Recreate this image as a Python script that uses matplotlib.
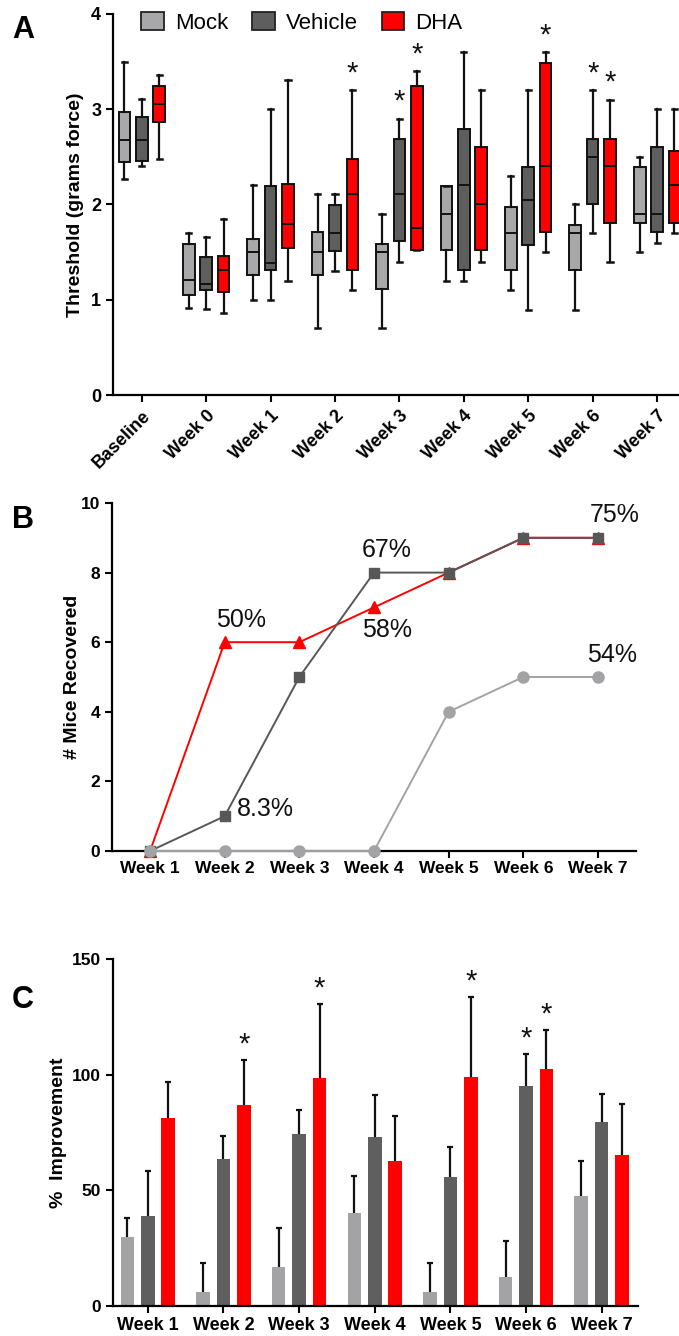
import matplotlib
matplotlib.use('Agg')
import matplotlib.pyplot as plt
import numpy as np
from matplotlib.patches import Patch

plt.rcParams['font.family'] = ['Liberation Sans', 'DejaVu Sans']

# ---------------- data ----------------
series = ['Mock', 'Vehicle', 'DHA']
colors_box = ['#a8a8ab', '#5e5e5e', '#ff0000']
colors_line = ['#a3a3a6', '#575757', '#ff0000']
colors_bar = ['#a3a3a6', '#5f5f5f', '#ff0000']

groups_a = ['Baseline', 'Week 0', 'Week 1', 'Week 2', 'Week 3',
            'Week 4', 'Week 5', 'Week 6', 'Week 7']

mock_low = [2.27, 0.91, 1.00, 0.70, 0.70, 1.20, 1.10, 0.89, 1.50]
mock_q1 = [2.45, 1.05, 1.26, 1.26, 1.11, 1.52, 1.31, 1.31, 1.81]
mock_med = [2.68, 1.21, 1.50, 1.50, 1.50, 1.90, 1.70, 1.70, 1.90]
mock_q3 = [2.97, 1.59, 1.64, 1.71, 1.59, 2.19, 1.97, 1.79, 2.39]
mock_high = [3.50, 1.70, 2.20, 2.11, 1.90, 2.19, 2.30, 2.01, 2.50]

veh_low = [2.40, 0.90, 1.00, 1.30, 1.40, 1.20, 0.89, 1.70, 1.60]
veh_q1 = [2.46, 1.10, 1.31, 1.51, 1.62, 1.31, 1.57, 2.01, 1.71]
veh_med = [2.68, 1.17, 1.39, 1.70, 2.11, 2.20, 2.05, 2.50, 1.90]
veh_q3 = [2.92, 1.45, 2.19, 1.99, 2.69, 2.79, 2.39, 2.69, 2.60]
veh_high = [3.11, 1.66, 3.00, 2.11, 2.90, 3.60, 3.20, 3.20, 3.00]

dha_low = [2.48, 0.86, 1.20, 1.10, 1.52, 1.40, 1.50, 1.40, 1.70]
dha_q1 = [2.87, 1.08, 1.54, 1.31, 1.52, 1.52, 1.71, 1.81, 1.81]
dha_med = [3.06, 1.31, 1.80, 2.11, 1.75, 2.00, 2.40, 2.40, 2.20]
dha_q3 = [3.24, 1.46, 2.22, 2.48, 3.24, 2.60, 3.49, 2.69, 2.56]
dha_high = [3.36, 1.85, 3.31, 3.20, 3.40, 3.20, 3.60, 3.10, 3.00]

sig_a = {'Mock': [], 'Vehicle': ['Week 3', 'Week 6'],
         'DHA': ['Week 2', 'Week 3', 'Week 5', 'Week 6']}

weeks_b = ['Week 1', 'Week 2', 'Week 3', 'Week 4', 'Week 5', 'Week 6', 'Week 7']
mock_rec = [0, 0, 0, 0, 4, 5, 5]
veh_rec = [0, 1, 5, 8, 8, 9, 9]
dha_rec = [0, 6, 6, 7, 8, 9, 9]
# (series, week, label)
labels_b = [('DHA', 'Week 2', '50%'), ('Vehicle', 'Week 2', '8.3%'),
            ('Vehicle', 'Week 4', '67%'), ('DHA', 'Week 4', '58%'),
            ('Vehicle', 'Week 7', '75%'), ('Mock', 'Week 7', '54%')]

weeks_c = ['Week 1', 'Week 2', 'Week 3', 'Week 4', 'Week 5', 'Week 6', 'Week 7']
mock_imp = [30.0, 6.1, 17.0, 40.1, 6.1, 12.7, 47.7]
mock_err = [7.9, 12.4, 16.6, 16.1, 12.7, 15.4, 15.0]
veh_imp = [38.9, 63.6, 74.3, 73.0, 55.7, 94.9, 79.5]
veh_err = [19.5, 10.1, 10.6, 18.0, 13.2, 14.0, 12.2]
dha_imp = [81.2, 86.8, 98.5, 62.5, 99.2, 102.5, 65.3]
dha_err = [15.6, 19.6, 32.2, 19.7, 34.4, 16.9, 22.0]
sig_c = {'Mock': [], 'Vehicle': ['Week 6'],
         'DHA': ['Week 2', 'Week 3', 'Week 5', 'Week 6']}

# ---------------- figure ----------------
W, H = 679, 1336
fig = plt.figure(figsize=(W / 100, H / 100), dpi=100)


def ax_px(l, r, t, b):
    return fig.add_axes([l / W, 1 - b / H, (r - l) / W, (b - t) / H])


def style_axes(ax):
    for s in ['top', 'right']:
        ax.spines[s].set_visible(False)
    for s in ['left', 'bottom']:
        ax.spines[s].set_linewidth(1.6)
    ax.tick_params(width=1.5, length=5, direction='out')
    for lab in ax.get_xticklabels() + ax.get_yticklabels():
        lab.set_fontweight('bold')


offsets = [-0.27, 0.0, 0.27]
px2pt = 0.72

# ---------------- Panel A ----------------
axA = ax_px(113, 679, 14, 395)
box_data = {
    'Mock': (mock_low, mock_q1, mock_med, mock_q3, mock_high),
    'Vehicle': (veh_low, veh_q1, veh_med, veh_q3, veh_high),
    'DHA': (dha_low, dha_q1, dha_med, dha_q3, dha_high),
}
xg = np.arange(len(groups_a))
for si, name in enumerate(series):
    lo, q1, med, q3, hi = box_data[name]
    stats = [dict(whislo=lo[i], q1=q1[i], med=med[i], q3=q3[i], whishi=hi[i],
                  fliers=[]) for i in range(len(groups_a))]
    axA.bxp(stats, positions=xg + offsets[si], widths=0.18, capwidths=0.08,
            patch_artist=True, showfliers=False, manage_ticks=False,
            boxprops=dict(facecolor=colors_box[si], edgecolor='#111111', linewidth=1.4),
            medianprops=dict(color='#111111', linewidth=1.4),
            whiskerprops=dict(color='#111111', linewidth=1.6),
            capprops=dict(color='#111111', linewidth=1.8))
    for g in sig_a[name]:
        i = groups_a.index(g)
        axA.annotate('*', xy=(xg[i] + offsets[si], hi[i]), xytext=(0, 2),
                     textcoords='offset points', ha='center', va='bottom',
                     fontsize=21, color='#111111')

axA.set_xlim(-0.446, 8.34)
axA.set_ylim(0, 4)
axA.set_yticks([0, 1, 2, 3, 4])
axA.set_xticks(xg)
axA.set_xticklabels(groups_a, rotation=45, ha='right', rotation_mode='anchor')
axA.tick_params(axis='x', labelsize=13, pad=4)
axA.tick_params(axis='y', labelsize=13)
style_axes(axA)
axA.set_ylabel('Threshold (grams force)', fontsize=14, fontweight='bold', labelpad=5)
handles = [Patch(facecolor=colors_box[i], edgecolor='#222222', linewidth=1.3, label=series[i])
           for i in range(3)]
axA.legend(handles=handles, ncol=3, frameon=False, loc='center',
           bbox_to_anchor=(0.334, 0.976), fontsize=16, handlelength=1.0,
           handleheight=0.85, handletextpad=0.5, columnspacing=1.1, borderpad=0)

# ---------------- Panel B ----------------
axB = ax_px(112, 636, 503, 851)
xb = np.arange(len(weeks_b))
axB.plot(xb, dha_rec, color=colors_line[2], marker='^', markersize=8, linewidth=1.4,
         clip_on=False, zorder=3)
axB.plot(xb, veh_rec, color=colors_line[1], marker='s', markersize=7.5, linewidth=1.4,
         clip_on=False, zorder=4)
axB.plot(xb, mock_rec, color=colors_line[0], marker='o', markersize=8, linewidth=1.4,
         clip_on=False, zorder=5)
rec = {'Mock': mock_rec, 'Vehicle': veh_rec, 'DHA': dha_rec}
lab_off = {'50%': (16, 22), '8.3%': (41, 7), '67%': (13, 23), '58%': (13, -23),
           '75%': (17, 23), '54%': (14, 21.5)}
for name, wk, txt in labels_b:
    i = weeks_b.index(wk)
    dx, dy = lab_off[txt]
    axB.annotate(txt, xy=(xb[i], rec[name][i]), xytext=(dx * px2pt, dy * px2pt),
                 textcoords='offset points', ha='center', va='center', fontsize=18,
                 color='#111111', annotation_clip=False)
axB.set_xlim(-0.51, 6.51)
axB.set_ylim(0, 10)
axB.set_yticks([0, 2, 4, 6, 8, 10])
axB.set_xticks(xb)
axB.set_xticklabels(weeks_b)
axB.tick_params(axis='x', labelsize=12.5, pad=2)
axB.tick_params(axis='y', labelsize=12.5)
style_axes(axB)
axB.set_ylabel('# Mice Recovered', fontsize=14, fontweight='bold', labelpad=0)

# ---------------- Panel C ----------------
axC = ax_px(113, 638, 959, 1306)
xc = np.arange(len(weeks_c))
bars = {'Mock': (mock_imp, mock_err), 'Vehicle': (veh_imp, veh_err), 'DHA': (dha_imp, dha_err)}
for si, name in enumerate(series):
    vals, errs = bars[name]
    pos = xc + offsets[si]
    axC.bar(pos, vals, width=0.18, color=colors_bar[si], zorder=2)
    eb = axC.errorbar(pos, vals, yerr=[np.zeros(len(vals)), errs], fmt='none',
                      ecolor='#111111', elinewidth=1.6, capsize=2.5, capthick=1.6, zorder=3)
    # hide the cap that sits on the bar top (only the upper cap is shown)
    for cl in eb[1]:
        if np.allclose(cl.get_ydata(), vals):
            cl.set_visible(False)
    for g in sig_c[name]:
        i = weeks_c.index(g)
        axC.annotate('*', xy=(pos[i], vals[i] + errs[i]), xytext=(0, 1),
                     textcoords='offset points', ha='center', va='bottom',
                     fontsize=21, color='#111111')
axC.set_xlim(-0.46, 6.48)
axC.set_ylim(0, 150)
axC.set_yticks([0, 50, 100, 150])
axC.set_xticks(xc)
axC.set_xticklabels(weeks_c)
axC.tick_params(axis='x', labelsize=13, pad=3)
axC.tick_params(axis='y', labelsize=12.5)
style_axes(axC)
axC.set_ylabel('%  Improvement', fontsize=14, fontweight='bold', labelpad=4)

# panel letters
fig.text(12 / W, 1 - 30 / H, 'A', fontsize=22, fontweight='bold', va='center')
fig.text(12 / W, 1 - 520 / H, 'B', fontsize=22, fontweight='bold', va='center')
fig.text(12 / W, 1 - 1000 / H, 'C', fontsize=22, fontweight='bold', va='center')

fig.savefig('out.png', dpi=100)
